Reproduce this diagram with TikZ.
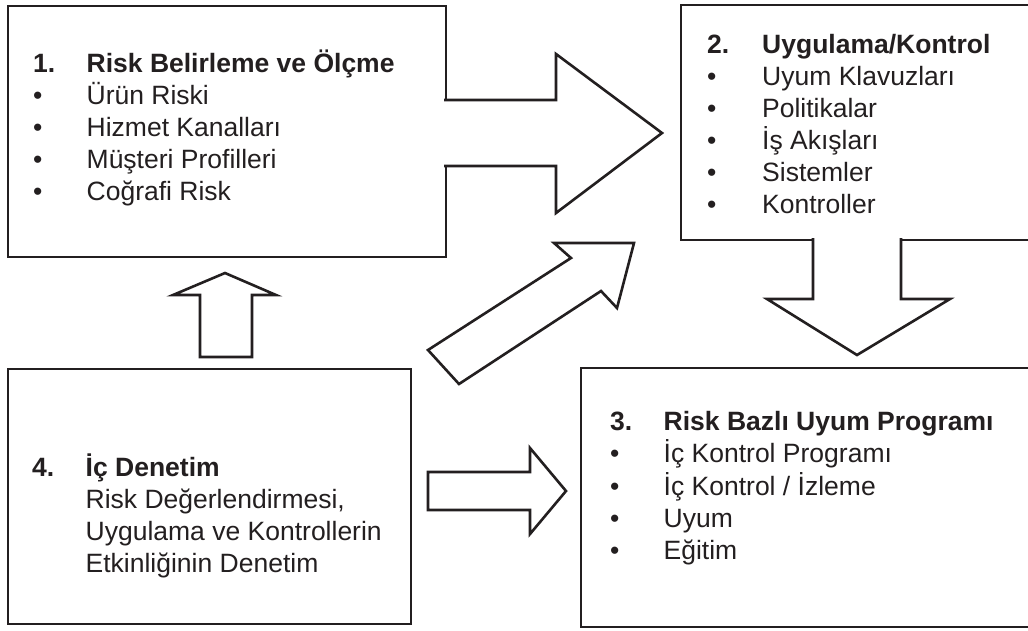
\documentclass[tikz,border=0pt]{standalone}
\usepackage{fontspec}
\setmainfont{Liberation Sans}
\usepackage{array}
\definecolor{ink}{RGB}{35,31,32}
\tikzset{
  box/.style={draw=ink, line width=2.6pt, fill=white, inner sep=0pt, outer sep=0pt, anchor=north west},
  blockarrow/.style={draw=ink, line width=2.6pt, fill=white, line join=miter},
  txt/.style={anchor=base west, inner sep=0pt, text=ink, font=\fontsize{26.5}{32}\selectfont}
}
\newcommand{\itemrow}[1]{\textbullet & #1\\}
\begin{document}
\begin{tikzpicture}[x=1pt,y=-1pt]
\clip (0,0) rectangle (1028,630);
\fill[white] (0,0) rectangle (1028,630);
% boxes
\node[box, minimum width=438pt, minimum height=251pt] (b1) at (8,6) {};
\node[box, minimum width=380pt, minimum height=235pt] (b2) at (681,5) {};
\node[box, minimum width=480pt, minimum height=259pt] (b3) at (581,368) {};
\node[box, minimum width=403pt, minimum height=255pt] (b4) at (8,369) {};
% arrow 1 -> 2 (merged into box 1)
\filldraw[blockarrow] (444,100) -- (556,100) -- (556,54) -- (662,133) -- (556,213) -- (556,166) -- (444,166);
% arrow 2 -> 3 (merged into box 2)
\filldraw[blockarrow] (813,238) -- (813,299) -- (767,299) -- (857,355) -- (950,299) -- (901,299) -- (901,238);
% arrow 4 -> 1
\filldraw[blockarrow] (200,357) -- (200,295) -- (173,295) -- (225,273) -- (276,295) -- (252,295) -- (252,357) -- cycle;
% arrow 4 -> 2 (diagonal)
\filldraw[blockarrow] (428,350) -- (571,258) -- (554,243) -- (634,243) -- (617,308) -- (601,291) -- (459,384) -- cycle;
% arrow 4 -> 3
\filldraw[blockarrow] (428,472) -- (530,472) -- (530,448) -- (566,491) -- (530,534) -- (530,510) -- (428,510) -- cycle;
% texts
\node[txt] (t1) at (33,72) {\begin{tabular}[t]{@{}p{53.5pt}@{}l@{}}
\textbf{1.} & \textbf{Risk Belirleme ve Ölçme}\\
\itemrow{Ürün Riski}
\itemrow{Hizmet Kanalları}
\itemrow{Müşteri Profilleri}
\textbullet & Coğrafi Risk
\end{tabular}};
\node[txt] (t2) at (707,53) {\begin{tabular}[t]{@{}p{55pt}@{}l@{}}
\textbf{2.} & \textbf{Uygulama/Kontrol}\\
\itemrow{Uyum Klavuzları}
\itemrow{Politikalar}
\itemrow{İş Akışları}
\itemrow{Sistemler}
\textbullet & Kontroller
\end{tabular}};
\node[txt] (t3) at (610,430) {\begin{tabular}[t]{@{}p{53.5pt}@{}l@{}}
\textbf{3.} & \textbf{Risk Bazlı Uyum Programı}\\
\itemrow{İç Kontrol Programı}
\itemrow{İç Kontrol / İzleme}
\itemrow{Uyum}
\textbullet & Eğitim
\end{tabular}};
\node[txt] (t4) at (32,476) {\begin{tabular}[t]{@{}p{53.5pt}@{}l@{}}
\textbf{4.} & \textbf{İç Denetim}\\
 & Risk Değerlendirmesi,\\
 & Uygulama ve Kontrollerin\\
 & Etkinliğinin Denetim
\end{tabular}};
\end{tikzpicture}
\end{document}
